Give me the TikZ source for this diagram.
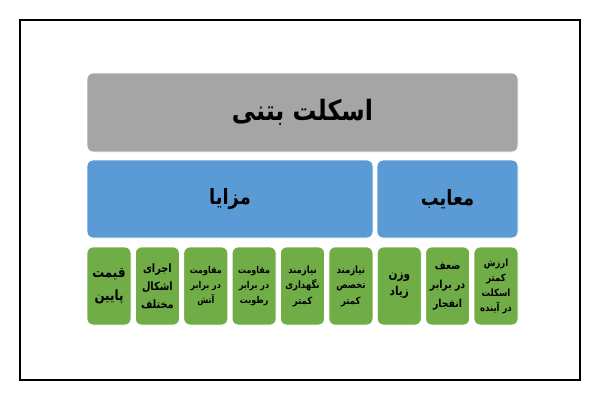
\documentclass[tikz,border=0pt]{standalone}
\usepackage{fontspec}
\newfontfamily\farsi[Script=Arabic, FakeStretch=0.85]{DejaVu Sans}
\TeXXeTstate=1
\newcommand{\fa}[1]{\beginR #1\endR}
\definecolor{boxgray}{HTML}{A5A5A5}
\definecolor{boxblue}{HTML}{5B9BD5}
\definecolor{boxgreen}{HTML}{70AD47}
\tikzset{
	block/.style={draw=white, line width=0.8pt, rounded corners=6pt, inner sep=1pt, align=center, text=black},
	titlebox/.style={block, fill=boxgray, minimum width=431pt, minimum height=79pt, font=\farsi\bfseries\fontsize{28}{32}\selectfont},
	groupbox/.style={block, fill=boxblue, minimum height=78pt, font=\farsi\bfseries\fontsize{21}{25}\selectfont},
	itembox/.style 2 args={block, fill=boxgreen, minimum width=44pt, minimum height=78pt, font=\farsi\bfseries\fontsize{#1}{#2}\selectfont},
}

\begin{document}
\begin{tikzpicture}[x=1pt, y=-1pt]
	\useasboundingbox (0,0) rectangle (600,400);
	\draw [line width=2pt] (20,20) rectangle (580,380);
	% top level
	\node [titlebox] (skeleton) at (302.5,112.5) {\fa{اسکلت بتنی}};
	% advantages and drawbacks
	\node [groupbox, minimum width=286pt] (pros) at (230,199) {\fa{مزایا}};
	\node [groupbox, minimum width=141pt] (cons) at (447.5,199) {\fa{معایب}};
	% items
	\node [itembox={14}{23}] (price) at (109,286) {\fa{قیمت}\\\fa{پایین}};
	\node [itembox={11.5}{18}] (shapes) at (157.4,286) {\fa{اجرای}\\\fa{اشکال}\\\fa{مختلف}};
	\node [itembox={9.4}{15}] (fire) at (205.8,286) {\fa{مقاومت}\\\fa{در برابر}\\\fa{آتش}};
	\node [itembox={9.4}{15}] (damp) at (254.1,286) {\fa{مقاومت}\\\fa{در برابر}\\\fa{رطوبت}};
	\node [itembox={10}{15.5}] (upkeep) at (302.5,286) {\fa{نیازمند}\\\fa{نگهداری}\\\fa{کمتر}};
	\node [itembox={10}{15.5}] (skill) at (350.9,286) {\fa{نیازمند}\\\fa{تخصص}\\\fa{کمتر}};
	\node [itembox={12.3}{17}] (weight) at (399.3,286) {\fa{وزن}\\\fa{زیاد}};
	\node [itembox={11}{19}] (blast) at (447.6,286) {\fa{ضعف}\\\fa{در برابر}\\\fa{انفجار}};
	\node [itembox={10}{15}] (value) at (496,286) {\fa{ارزش}\\\fa{کمتر}\\\fa{اسکلت}\\\fa{در آینده}};
\end{tikzpicture}
\end{document}
